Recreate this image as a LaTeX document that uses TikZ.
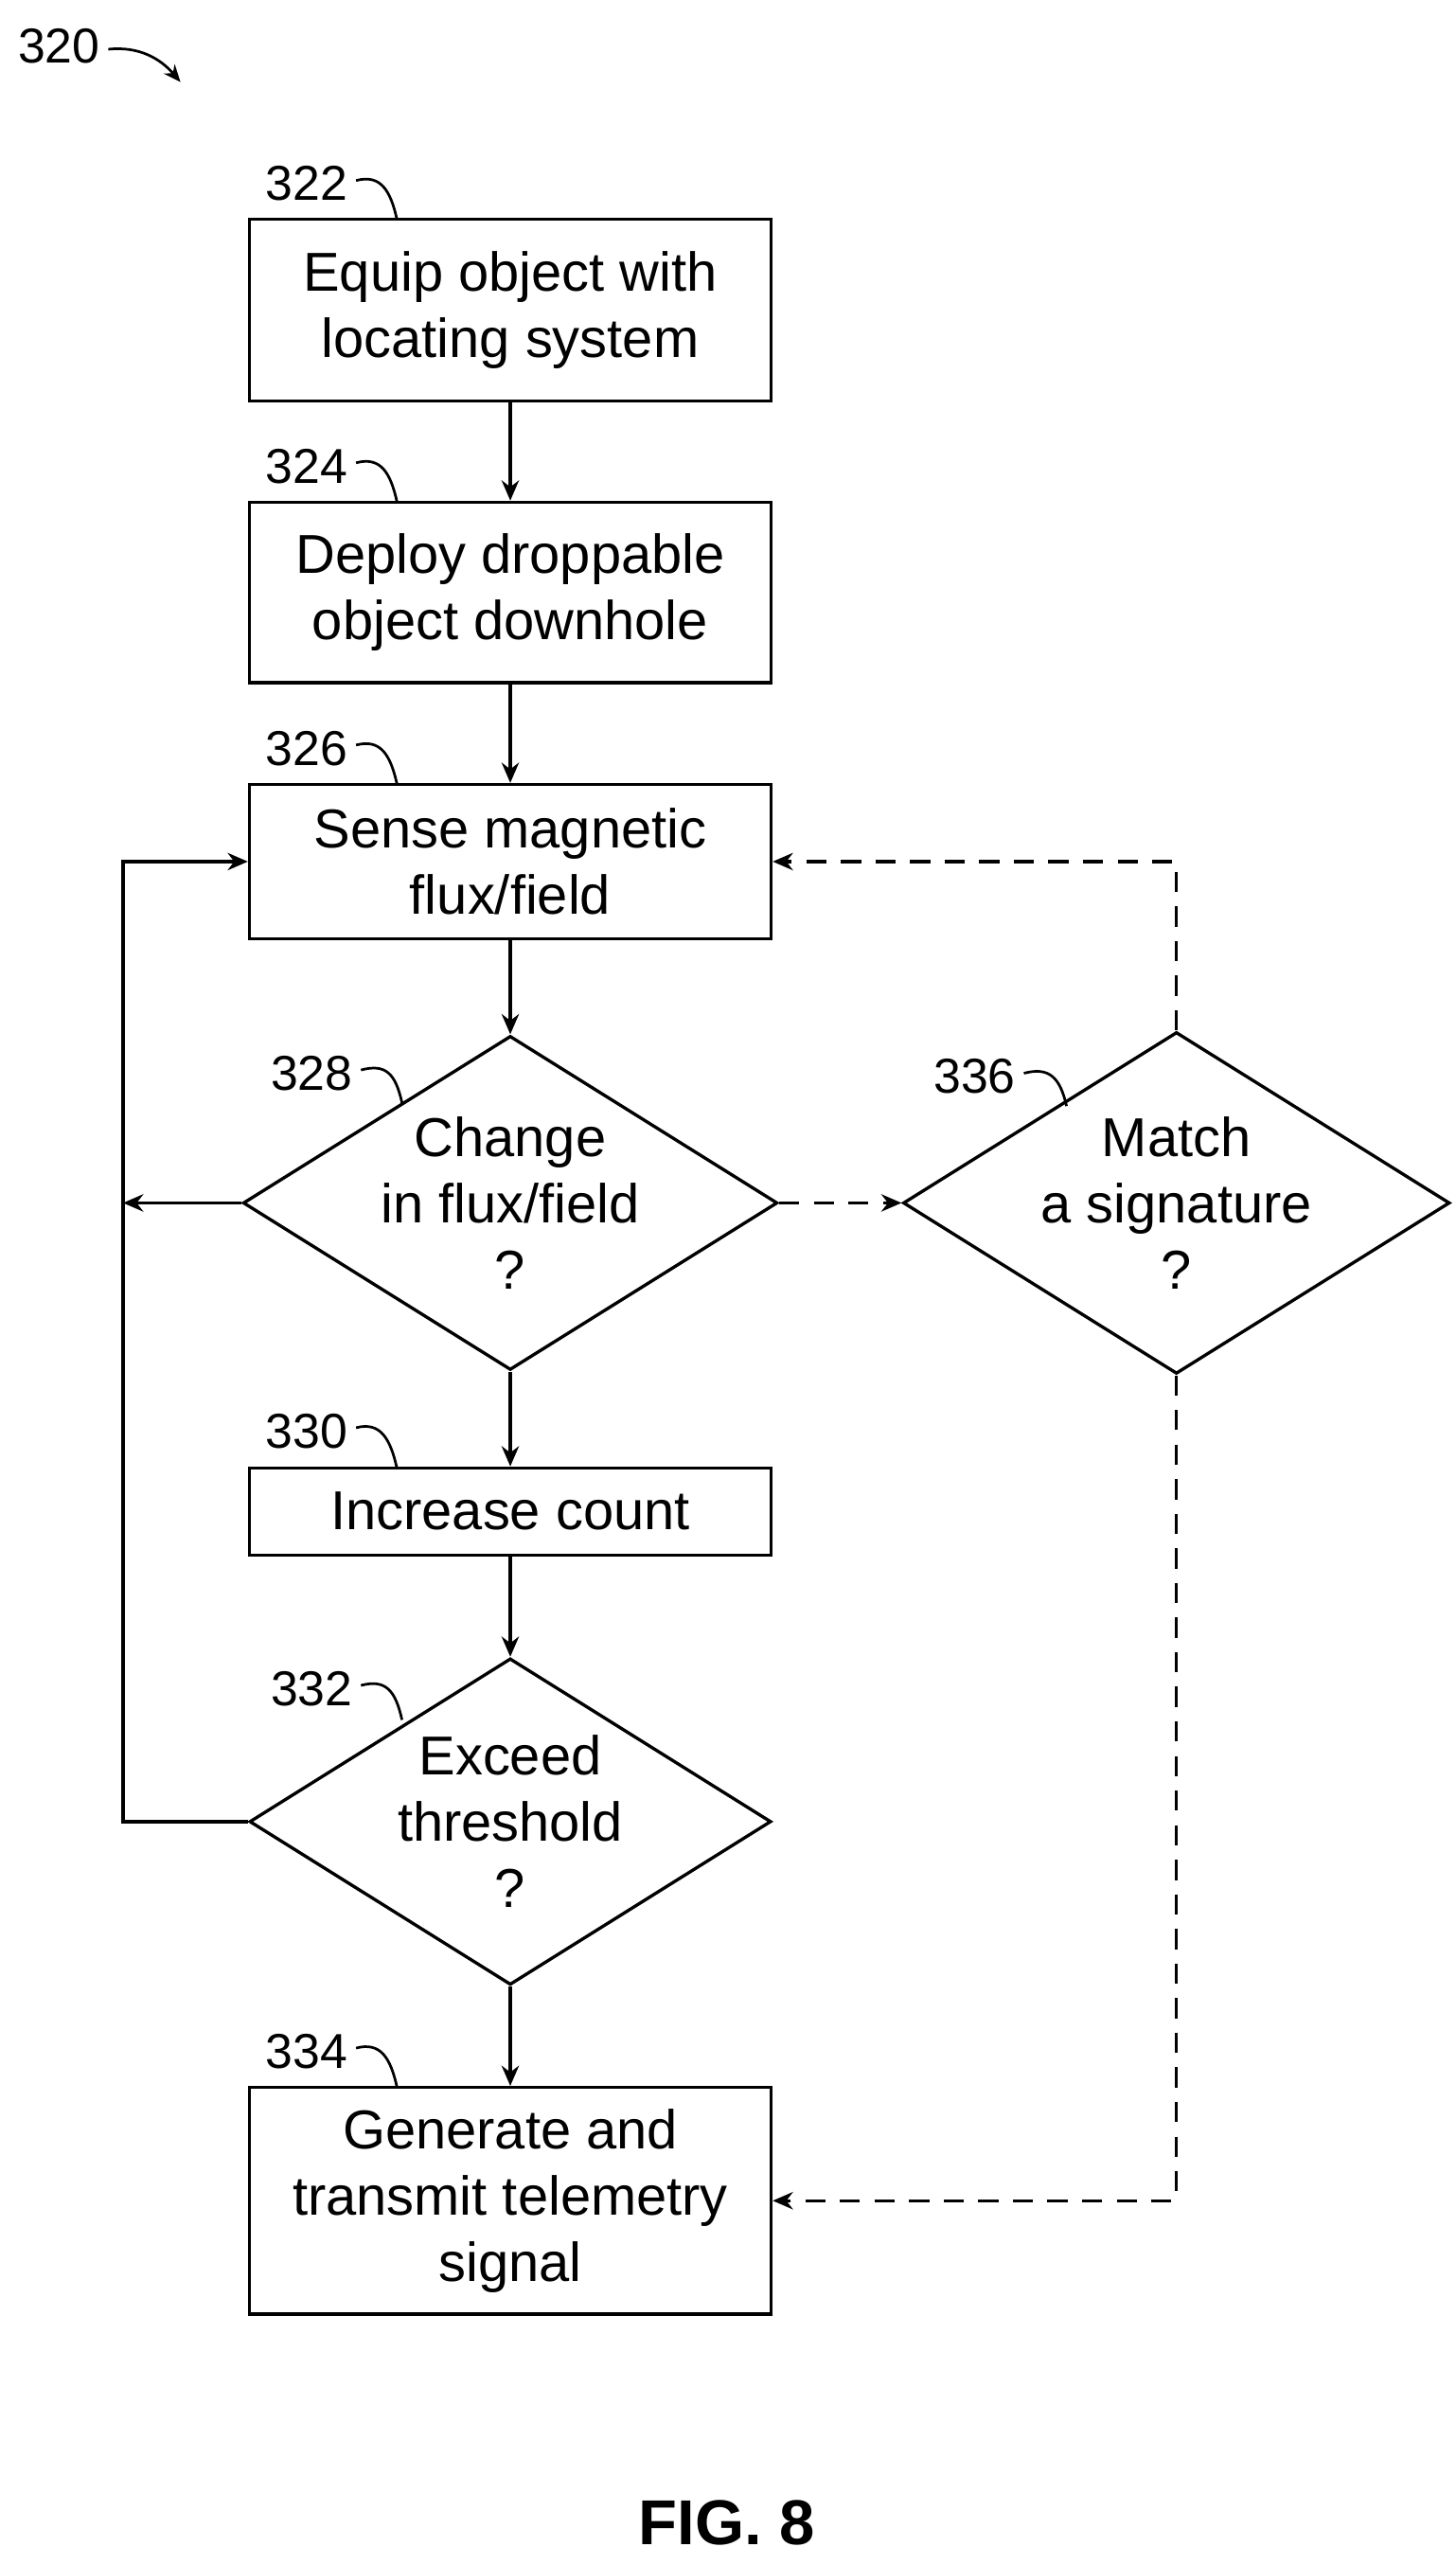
\documentclass[tikz,border=0pt]{standalone}
\usepackage{fontspec}
\setmainfont{Liberation Sans}
\usetikzlibrary{shapes.geometric,arrows.meta}
\tikzset{
  stepbox/.style={draw, line width=1.1pt, minimum width=6.36cm, align=center, inner sep=0pt, font=\fontsize{19}{23}\selectfont},
  test/.style={draw, diamond, line width=1.1pt, minimum width=6.36cm, minimum height=3.98cm, aspect=1.6, inner sep=0pt, align=center, font=\fontsize{19}{23}\selectfont},
  flow/.style={line width=1.1pt, -{Stealth[length=7pt,width=6pt]}},
  dflow/.style={flow, dash pattern=on 7pt off 5pt},
  num/.style={font=\fontsize{17}{20}\selectfont},
  tick/.style={line width=0.9pt}
}
\begin{document}
\begin{tikzpicture}[x=0.02cm,y=-0.02cm]
                \useasboundingbox (0,0) rectangle (887,1563);
                % steps
                \node [stepbox, minimum height=2.22cm] (equip) at (311,189) {Equip object with\\locating system};
                \node [stepbox, minimum height=2.2cm] (deploy) at (311,361) {Deploy droppable\\object downhole};
                \node [stepbox, minimum height=1.88cm] (sense) at (311,525) {Sense magnetic\\flux/field};
                \node [test] (change) at (311,733) {Change\\in flux/field\\?};
                \node [test] (match) at (717,733) {Match\\a signature\\?};
                \node [stepbox, minimum height=1.06cm] (count) at (311,921) {Increase count};
                \node [test] (exceed) at (311,1110) {Exceed\\threshold\\?};
                \node [stepbox, minimum height=2.76cm] (send) at (311,1341) {Generate and\\transmit telemetry\\signal};
                % connectors
                \draw [flow] (equip) -- (deploy);
                \draw [flow] (deploy) -- (sense);
                \draw [flow] (sense) -- (change);
                \draw [flow] (change) -- (count);
                \draw [flow] (count) -- (exceed);
                \draw [flow] (exceed) -- (send);
                \coordinate (loopa) at (75,1110);
                \coordinate (loopb) at (75,525);
                \coordinate (loopc) at (75,733);
                \draw [flow] (exceed.west) -- (loopa) -- (loopb) -- (sense.west);
                \draw [flow] (change.west) -- (loopc);
                \draw [dflow] (change.east) -- (match.west);
                \draw [dflow] (match.north) |- (sense.east);
                \draw [dflow] (match.south) |- (send.east);
                % reference numerals
                \node [num] (n320) at (36,28) {320};
                \draw [tick, -{Stealth[length=6pt,width=5pt]}] (66,30) .. controls (85,28) and (98,36) .. (110,50);
                \foreach \lab/\x/\y/\ex/\ey in {322/187/112/242/134, 324/187/284/242/306, 326/187/456/242/478, 328/190/654/245/672, 336/594/656/650/674, 330/187/872/242/895, 332/190/1029/245/1048, 334/187/1250/242/1272} {
                    \node [num] at (\x,\y) {\lab};
                    \draw [tick] (\x+30,\y-2) .. controls (\x+45,\y-6) and (\ex-4,\ey-18) .. (\ex,\ey);
                }
                \node [font=\bfseries\fontsize{22}{26}\selectfont] (fig) at (443,1537) {FIG. 8};
            \end{tikzpicture}
\end{document}
